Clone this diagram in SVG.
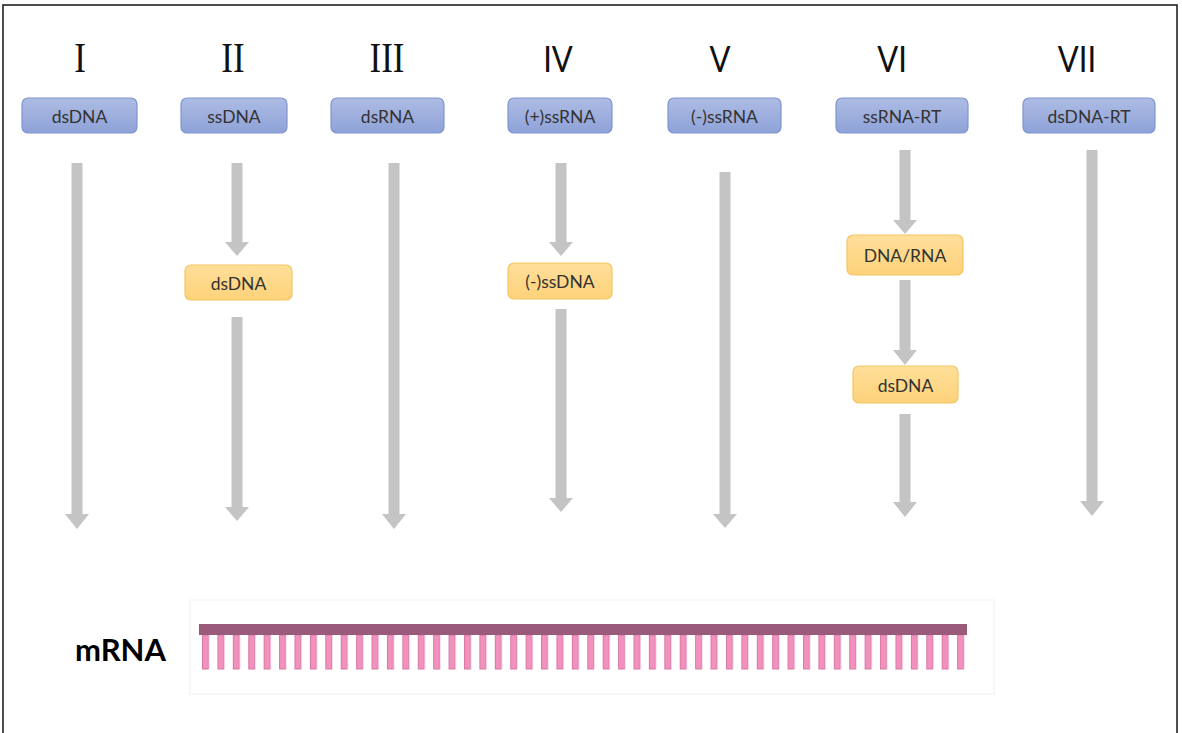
<svg xmlns="http://www.w3.org/2000/svg" width="1182" height="733" viewBox="0 0 1182 733">
<defs>
<linearGradient id="gBlue" x1="0" y1="0" x2="0" y2="1">
<stop offset="0" stop-color="#aebce4"/><stop offset="1" stop-color="#8ea2d8"/>
</linearGradient>
<linearGradient id="gOrange" x1="0" y1="0" x2="0" y2="1">
<stop offset="0" stop-color="#ffdf9a"/><stop offset="1" stop-color="#fdd27a"/>
</linearGradient>
<pattern id="teeth" x="202" y="0" width="15.41" height="733" patternUnits="userSpaceOnUse">
<rect x="0.5" y="635" width="6" height="34" fill="#f290be" stroke="#d77aa6" stroke-width="1"/>
</pattern>
</defs>
<style>
.blue{fill:url(#gBlue);stroke:#7e95d1;stroke-width:1.2}
.orange{fill:url(#gOrange);stroke:#f3c562;stroke-width:1.2}
.lbl{font-family:Lato,"Open Sans",sans-serif;font-size:17.5px;fill:#333;text-anchor:middle}
.serif{font-family:"Liberation Serif","Times New Roman",serif;font-size:35px;fill:#111;text-anchor:middle}
.sans{font-family:Lato,"Liberation Sans",sans-serif;font-size:31px;fill:#111;text-anchor:middle}
.arrow{fill:#c4c4c4}
</style>
<rect x="0" y="0" width="1182" height="733" fill="#fff"/>
<rect x="3" y="5" width="1174" height="745" fill="none" stroke="#222" stroke-width="1.6"/>

<g id="headers">
<text class="serif" transform="translate(80,72) scale(1,1.2)">I</text>
<text class="serif" transform="translate(233,72) scale(1,1.2)">II</text>
<text class="serif" transform="translate(387,72) scale(1,1.2)">III</text>
<text class="sans" transform="translate(558,72) scale(1,1.2)">IV</text>
<text class="sans" transform="translate(720,72) scale(1,1.2)">V</text>
<text class="sans" transform="translate(892,72) scale(1,1.2)">VI</text>
<text class="sans" transform="translate(1077,72) scale(1,1.2)">VII</text>
</g>

<g id="connectors">
<polygon class="arrow" points="71.5,163 82.5,163 82.5,514 89,514 77,529 65,514 71.5,514"/>
<polygon class="arrow" points="231.5,163 242.5,163 242.5,242 249,242 237,256 225,242 231.5,242"/>
<polygon class="arrow" points="231.5,317 242.5,317 242.5,507 249,507 237,521 225,507 231.5,507"/>
<polygon class="arrow" points="388.5,163 399.5,163 399.5,514 406,514 394,529 382,514 388.5,514"/>
<polygon class="arrow" points="555.5,163 566.5,163 566.5,242 573,242 561,256 549,242 555.5,242"/>
<polygon class="arrow" points="555.5,309 566.5,309 566.5,498 573,498 561,512 549,498 555.5,498"/>
<polygon class="arrow" points="719.5,172 730.5,172 730.5,514 737,514 725,528 713,514 719.5,514"/>
<polygon class="arrow" points="899.5,150 910.5,150 910.5,220 917,220 905,234 893,220 899.5,220"/>
<polygon class="arrow" points="899.5,280 910.5,280 910.5,350 917,350 905,365 893,350 899.5,350"/>
<polygon class="arrow" points="899.5,414 910.5,414 910.5,502 917,502 905,517 893,502 899.5,502"/>
<polygon class="arrow" points="1086.5,150 1097.5,150 1097.5,501 1104,501 1092,516 1080,501 1086.5,501"/>
</g>

<g id="n-dsDNA"><rect class="blue" x="22" y="98" width="115" height="35" rx="6"/><text class="lbl" x="79.5" y="123">dsDNA</text></g>
<g id="n-ssDNA"><rect class="blue" x="181" y="98" width="106" height="35" rx="6"/><text class="lbl" x="234" y="123">ssDNA</text></g>
<g id="n-dsRNA"><rect class="blue" x="331" y="98" width="113" height="35" rx="6"/><text class="lbl" x="387.5" y="123">dsRNA</text></g>
<g id="n-pssRNA"><rect class="blue" x="508" y="98" width="104" height="35" rx="6"/><text class="lbl" x="560" y="123">(+)ssRNA</text></g>
<g id="n-mssRNA"><rect class="blue" x="668" y="98" width="113" height="35" rx="6"/><text class="lbl" x="724.5" y="123">(-)ssRNA</text></g>
<g id="n-ssRNA-RT"><rect class="blue" x="836" y="98" width="132" height="35" rx="6"/><text class="lbl" x="902" y="123">ssRNA-RT</text></g>
<g id="n-dsDNA-RT"><rect class="blue" x="1023" y="98" width="132" height="35" rx="6"/><text class="lbl" x="1089" y="123">dsDNA-RT</text></g>

<g id="n-II-dsDNA"><rect class="orange" x="185" y="265" width="107" height="35" rx="6"/><text class="lbl" x="238.5" y="289.5">dsDNA</text></g>
<g id="n-IV-mssDNA"><rect class="orange" x="508" y="263" width="104" height="36" rx="6"/><text class="lbl" x="560" y="288">(-)ssDNA</text></g>
<g id="n-VI-DNARNA"><rect class="orange" x="847" y="235" width="116" height="40" rx="6"/><text class="lbl" x="905" y="262">DNA/RNA</text></g>
<g id="n-VI-dsDNA"><rect class="orange" x="853" y="366" width="105" height="37" rx="6"/><text class="lbl" x="905.5" y="391.5">dsDNA</text></g>

<g id="mRNA">
<rect x="190" y="600" width="804" height="94" fill="#fff" stroke="#f0f0f0" stroke-width="1"/>
<rect x="199" y="634" width="768" height="36" fill="url(#teeth)"/>
<rect x="199" y="624" width="768" height="11" fill="#9a5a7c"/>
<text x="75" y="661" font-family="Lato,'Liberation Sans',sans-serif" font-weight="bold" font-size="31" fill="#000">mRNA</text>
</g>
</svg>
